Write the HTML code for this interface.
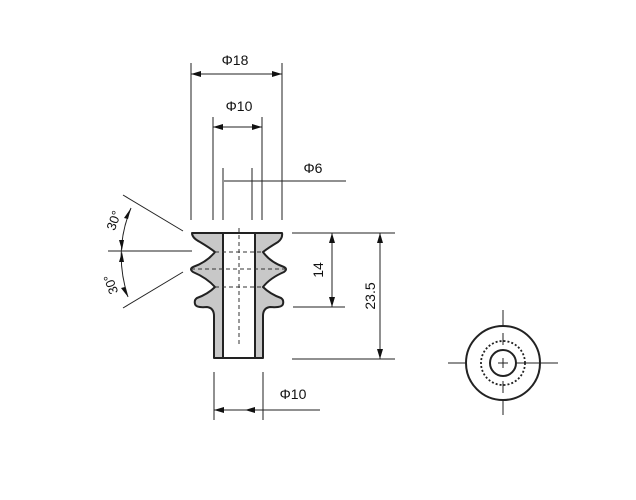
<!DOCTYPE html>
<html><head><style>body{margin:0;background:#fff}svg{display:block}</style></head><body>
<svg width="636" height="500" viewBox="0 0 636 500" xmlns="http://www.w3.org/2000/svg" font-family="Liberation Sans, sans-serif">
<defs>
<marker id="a" viewBox="0 0 10 6" refX="10" refY="3" markerWidth="10" markerHeight="6" orient="auto-start-reverse" markerUnits="userSpaceOnUse"><path d="M0,0L10,3L0,6z" fill="#111"/></marker>
</defs>
<g stroke="#222" stroke-width="1" fill="none">
<line x1="191" y1="63" x2="191" y2="220"/><line x1="282" y1="63" x2="282" y2="220"/>
<line x1="213" y1="117" x2="213" y2="220"/><line x1="262" y1="117" x2="262" y2="220"/>
<line x1="223" y1="168" x2="223" y2="220"/><line x1="252" y1="168" x2="252" y2="220"/>
<line x1="191" y1="74" x2="282" y2="74" marker-start="url(#a)" marker-end="url(#a)"/>
<line x1="213" y1="127" x2="262" y2="127" marker-start="url(#a)" marker-end="url(#a)"/>
<line x1="224" y1="181" x2="346" y2="181"/>
<line x1="292" y1="233" x2="395" y2="233"/>
<line x1="293" y1="307" x2="345" y2="307"/>
<line x1="292" y1="359" x2="395" y2="359"/>
<line x1="332" y1="233" x2="332" y2="307" marker-start="url(#a)" marker-end="url(#a)"/>
<line x1="380" y1="233" x2="380" y2="359" marker-start="url(#a)" marker-end="url(#a)"/>
<line x1="214" y1="372" x2="214" y2="420"/><line x1="263" y1="372" x2="263" y2="420"/>
<line x1="214" y1="410" x2="320" y2="410"/>
<line x1="232" y1="410" x2="214" y2="410" marker-end="url(#a)"/>
<line x1="262" y1="410" x2="245" y2="410" marker-end="url(#a)"/>
<line x1="123" y1="195" x2="183" y2="231"/>
<line x1="123" y1="308" x2="183" y2="272"/>
<line x1="108" y1="251" x2="192" y2="251"/>
<path d="M131,208 Q113,251 128,297"/>
</g>
<g fill="#111">
<path d="M131,208 L124,218 L128,219 Z"/>
<path d="M122,250 L119,240 L124,240 Z"/>
<path d="M122,252 L119,262 L124,262 Z"/>
<path d="M128,297 L121,288 L125,287 Z"/>
</g>
<path d="M192,233 L282,233 Q283,238 278,242 Q268,248 263,252 Q270,262 284,267 Q288,269 284,272 Q270,278 263,287 Q270,294 281,298 Q284,300 283,304 Q282,308 270,307 Q263,308 263,316 L263,358 L214,358 L214,316 Q214,308 207,307 Q196,308 195,304 Q194,300 197,298 Q208,294 215,287 Q207,278 193,272 Q189,269 193,267 Q207,262 215,252 Q210,248 200,242 Q192,238 192,233 Z" fill="#c8c8c8" stroke="#222" stroke-width="2" stroke-linejoin="round"/>
<rect x="223" y="233" width="32" height="125" fill="#fff" stroke="#222" stroke-width="2"/>
<g stroke="#333" stroke-width="1" stroke-dasharray="4,3">
<line x1="215" y1="252" x2="263" y2="252"/>
<line x1="191" y1="269" x2="286" y2="269"/>
<line x1="215" y1="287" x2="263" y2="287"/>
<line x1="239" y1="228" x2="239" y2="347"/>
</g>
<g stroke="#222" fill="none" stroke-width="1">
<circle cx="503" cy="363" r="37" stroke-width="2"/>
<circle cx="503" cy="363" r="22" stroke-dasharray="2,2" stroke-width="1.8"/>
<circle cx="503" cy="363" r="13" stroke-width="2"/>
<line x1="448" y1="363" x2="466" y2="363"/><line x1="516" y1="363" x2="558" y2="363"/>
<line x1="503" y1="310" x2="503" y2="326"/><line x1="503" y1="333" x2="503" y2="345"/>
<line x1="503" y1="381" x2="503" y2="393"/><line x1="503" y1="400" x2="503" y2="415"/>
<line x1="498" y1="363" x2="508" y2="363"/><line x1="503" y1="358" x2="503" y2="368"/>
</g>
<g font-size="14" fill="#111">
<text x="235" y="65" text-anchor="middle">Φ18</text>
<text x="239" y="111" text-anchor="middle">Φ10</text>
<text x="313" y="173" text-anchor="middle">Φ6</text>
<text x="293" y="399" text-anchor="middle">Φ10</text>
<text transform="translate(323,270) rotate(-90)" text-anchor="middle">14</text>
<text transform="translate(375,296) rotate(-90)" text-anchor="middle">23.5</text>
<text transform="translate(118,222) rotate(-70)" text-anchor="middle" font-size="13">30°</text>
<text transform="translate(115,283) rotate(-110)" text-anchor="middle" font-size="13">30°</text>
</g>
</svg>
</body></html>
